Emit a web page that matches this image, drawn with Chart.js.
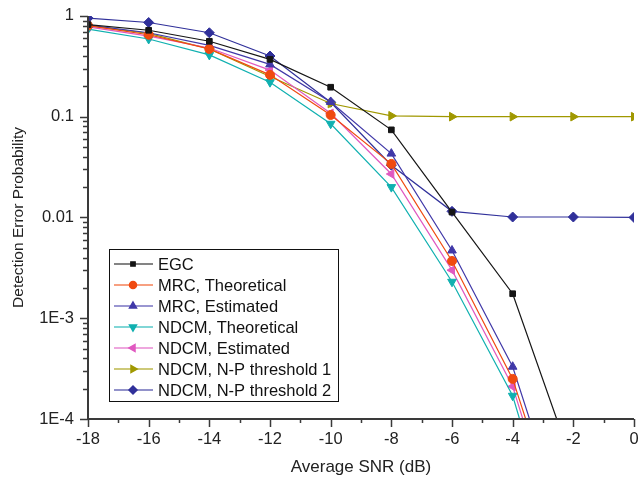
<!DOCTYPE html>
<html>
<head>
<meta charset="utf-8">
<script src="https://cdn.jsdelivr.net/npm/chart.js@4.4.1/dist/chart.umd.min.js"></script>
<style>
  html, body { margin: 0; padding: 0; background: #fff; }
  #wrap { width: 642px; height: 478px; }
</style>
</head>
<body>
<div id="wrap"><canvas id="myChart"></canvas></div>
<script>
// SNR in dB (x axis)
const snr = [-18, -16, -14, -12, -10, -8, -6, -4, -2, 0];

// detection error probability per scheme
const egc       = [0.82, 0.72, 0.56, 0.37, 0.196, 0.074, 0.0113, 0.00175, 3.4e-5];
const mrcTheo   = [0.80, 0.65, 0.47, 0.26, 0.104, 0.034, 0.0037, 2.5e-4, 3.5e-6];
const mrcEst    = [0.81, 0.68, 0.51, 0.33, 0.14, 0.043, 0.0047, 3.3e-4, 4.5e-6];
const ndcmTheo  = [0.74, 0.59, 0.41, 0.22, 0.085, 0.020, 0.0023, 1.7e-4, 1.6e-6];
const ndcmEst   = [0.78, 0.63, 0.48, 0.29, 0.108, 0.027, 0.0030, 2.1e-4, 2.5e-6];
const npThresh1 = [0.80, 0.67, 0.47, 0.25, 0.135, 0.102, 0.100, 0.100, 0.100, 0.100];
const npThresh2 = [0.95, 0.86, 0.68, 0.40, 0.139, 0.033, 0.0115, 0.0101, 0.0101, 0.0100];

// y tick labels (log axis)
const yTickValues = [1e-4, 1e-3, 1e-2, 1e-1, 1];
const yTickLabels = ["1E-4", "1E-3", "0.01", "0.1", "1"];

const font = "'Liberation Sans', Arial, sans-serif";

function pts(vals) {
    return vals.map((v, i) => ({ x: snr[i], y: v }));
}

function serie(label, vals, color, style, rot, r) {
    return {
        label: label,
        data: pts(vals),
        borderColor: color,
        backgroundColor: color,
        borderWidth: 1.2,
        pointStyle: style,
        rotation: rot,
        pointRadius: r,
        pointHoverRadius: r,
        pointBorderWidth: 1,
        tension: 0
    };
}

const datasets = [
    serie("EGC", egc, "#151515", "rect", 0, 4),
    serie("MRC, Theoretical", mrcTheo, "#f04a10", "circle", 0, 4.5),
    serie("MRC, Estimated", mrcEst, "#4038a8", "triangle", 0, 5),
    serie("NDCM, Theoretical", ndcmTheo, "#10b0b0", "triangle", 180, 5),
    serie("NDCM, Estimated", ndcmEst, "#e058c0", "triangle", 270, 5),
    serie("NDCM, N-P threshold 1", npThresh1, "#a09800", "triangle", 90, 5),
    serie("NDCM, N-P threshold 2", npThresh2, "#30309a", "rectRot", 0, 5)
];

// ticks (major + minor) and axis lines drawn by hand
const axisTicks = {
    id: "axisTicks",
    afterDraw(c) {
        const ctx = c.ctx, xs = c.scales.x, ys = c.scales.y, a = c.chartArea;
        ctx.save();
        ctx.strokeStyle = "#3a3a3a";
        ctx.lineWidth = 1.5;
        ctx.beginPath();
        for (let v = -18; v <= 0; v++) {
            const px = Math.round(xs.getPixelForValue(v)) + 0.5;
            const len = v % 2 === 0 ? 8 : 4;
            ctx.moveTo(px, a.bottom);
            ctx.lineTo(px, a.bottom + len);
        }
        for (let k = -4; k <= 0; k++) {
            for (let m = 1; m <= 9; m++) {
                const v = m * Math.pow(10, k);
                if (v > 1.0001) break;
                const py = Math.round(ys.getPixelForValue(v)) + 0.5;
                const len = m === 1 ? 8 : 5;
                ctx.moveTo(a.left, py);
                ctx.lineTo(a.left - len, py);
            }
        }
        ctx.stroke();
        ctx.lineWidth = 2;
        ctx.beginPath();
        ctx.moveTo(a.left, a.top);
        ctx.lineTo(a.left, a.bottom);
        ctx.lineTo(a.right, a.bottom);
        ctx.stroke();
        ctx.restore();
    }
};

// boxed legend inside the plot area
const boxLegend = {
    id: "boxLegend",
    afterDraw(c) {
        const ctx = c.ctx;
        const x0 = 109, y0 = 249, w = 229, h = 152, step = 21;
        ctx.save();
        ctx.fillStyle = "#fff";
        ctx.fillRect(x0, y0, w, h);
        ctx.strokeStyle = "#111";
        ctx.lineWidth = 1;
        ctx.strokeRect(x0 + 0.5, y0 + 0.5, w, h);
        ctx.font = "16.5px " + font;
        ctx.textBaseline = "middle";
        c.data.datasets.forEach((ds, i) => {
            const y = y0 + 15 + i * step;
            ctx.strokeStyle = ds.borderColor;
            ctx.globalAlpha = 0.7;
            ctx.lineWidth = 1.5;
            ctx.beginPath();
            ctx.moveTo(x0 + 5, y);
            ctx.lineTo(x0 + 44, y);
            ctx.stroke();
            ctx.globalAlpha = 1;
            ctx.fillStyle = ds.borderColor;
            Chart.helpers.drawPoint(ctx, {
                pointStyle: ds.pointStyle,
                rotation: ds.rotation,
                radius: ds.pointRadius - 1,
                borderWidth: 1
            }, x0 + 24, y);
            ctx.fillStyle = "#111";
            ctx.fillText(ds.label, x0 + 49, y + 1);
        });
        ctx.restore();
    }
};

const config = {
    type: "line",
    data: { datasets: datasets },
    options: {
        responsive: false,
        animation: false,
        layout: { padding: { top: 15, right: 8, left: 0, bottom: 0 } },
        plugins: { legend: { display: false }, tooltip: { enabled: false } },
        scales: {
            x: {
                type: "linear",
                min: -18,
                max: 0,
                grid: { display: true, drawOnChartArea: false, drawTicks: true, tickLength: 8, tickColor: "transparent" },
                border: { display: false },
                ticks: {
                    stepSize: 2,
                    padding: 3,
                    color: "#222",
                    font: { family: font, size: 16.5 },
                    maxRotation: 0
                },
                title: {
                    display: true,
                    text: "Average SNR (dB)",
                    color: "#222",
                    font: { family: font, size: 17 },
                    padding: { top: 2, bottom: 0 }
                },
                afterFit: s => { s.height = 59; }
            },
            y: {
                type: "logarithmic",
                min: 1e-4,
                max: 1,
                grid: { display: true, drawOnChartArea: false, drawTicks: true, tickLength: 8, tickColor: "transparent" },
                border: { display: false },
                ticks: {
                    autoSkip: false,
                    padding: 6,
                    color: "#222",
                    font: { family: font, size: 16.5 },
                    callback: function (v) {
                        const i = yTickValues.findIndex(t => Math.abs(t - v) / t < 1e-6);
                        return i >= 0 ? yTickLabels[i] : "";
                    }
                },
                title: {
                    display: true,
                    text: "Detection Error Probability",
                    color: "#222",
                    font: { family: font, size: 15.5 },
                    padding: { top: 9, bottom: 4 }
                },
                afterFit: s => { s.width = 88; }
            }
        }
    },
    plugins: [axisTicks, boxLegend]
};

const canvas = document.getElementById("myChart");
canvas.width = 642;
canvas.height = 478;
const chart = new Chart(canvas, config);
</script>
</body>
</html>
